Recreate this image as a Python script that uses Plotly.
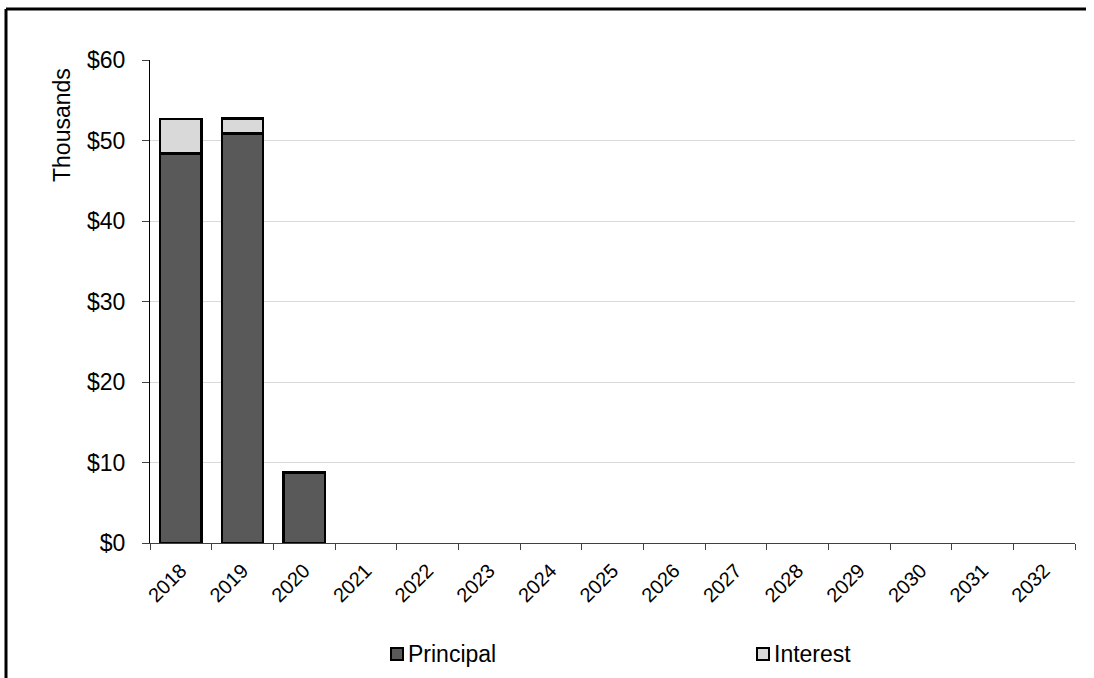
import plotly.graph_objects as go

# Annual loan payments, in thousands of dollars
years = [str(y) for y in range(2018, 2033)]
principal = [48.4, 50.9, 8.7, 0, 0, 0, 0, 0, 0, 0, 0, 0, 0, 0, 0]
interest = [4.3, 1.85, 0.15, 0, 0, 0, 0, 0, 0, 0, 0, 0, 0, 0, 0]
y_ticks = [0, 10, 20, 30, 40, 50, 60]

W, H = 1094, 678
L, R, T, B = 150, 19, 60, 135
PW, PH = W - L - R, H - T - B

FONT = "Liberation Sans, Arial, sans-serif"
DARK = "#595959"
LIGHT = "#d9d9d9"


def px_x(x):
    return (x - L) / PW


def px_y(y):
    return 1 - (y - T) / PH


def nonzero(values):
    # empty years get no bar (and no outline on the baseline)
    return [v if v else None for v in values]


fig = go.Figure()
fig.add_trace(go.Bar(x=years, y=nonzero(principal), name="Principal",
                     marker=dict(color=DARK, line=dict(color="black", width=2.5)),
                     showlegend=False))
fig.add_trace(go.Bar(x=years, y=nonzero(interest), name="Interest",
                     marker=dict(color=LIGHT, line=dict(color="black", width=2.5)),
                     showlegend=False))

shapes = [
    # outer chart frame: left and top edges
    dict(type="line", xref="paper", yref="paper",
         x0=px_x(6), x1=px_x(6), y0=px_y(H), y1=px_y(9),
         line=dict(color="black", width=3)),
    dict(type="line", xref="paper", yref="paper",
         x0=px_x(6), x1=px_x(W - 8), y0=px_y(9), y1=px_y(9),
         line=dict(color="black", width=3)),
]
annotations = [
    dict(text="Thousands", xref="paper", yref="paper", x=px_x(62), y=px_y(125),
         textangle=-90, showarrow=False, font=dict(family=FONT, size=23, color="black"),
         xanchor="center", yanchor="middle"),
]

# legend entries
for name, color, sx in [("Principal", DARK, 391), ("Interest", LIGHT, 757)]:
    shapes.append(dict(type="rect", xref="paper", yref="paper",
                       x0=px_x(sx), x1=px_x(sx + 12), y0=px_y(660), y1=px_y(648),
                       fillcolor=color, line=dict(color="black", width=2)))
    annotations.append(dict(text=name, xref="paper", yref="paper",
                            x=px_x(sx + 15), y=px_y(654), showarrow=False,
                            xanchor="left", yanchor="middle",
                            font=dict(family=FONT, size=23, color="black")))

fig.update_layout(
    width=W, height=H,
    margin=dict(l=L, r=R, t=T, b=B),
    paper_bgcolor="white", plot_bgcolor="white",
    barmode="stack", bargap=0.33,
    font=dict(family=FONT, size=23, color="black"),
    shapes=shapes, annotations=annotations,
    xaxis=dict(
        type="category", tickangle=-45, tickson="boundaries",
        ticks="outside", ticklen=6, tickcolor="#404040",
        showline=True, linecolor="#404040", linewidth=1,
        showgrid=False, tickfont=dict(family=FONT, size=20),
        ticklabelstandoff=7,
    ),
    yaxis=dict(
        range=[0, 60], tickvals=y_ticks, ticktext=[f"${v}" for v in y_ticks],
        ticks="outside", ticklen=7, tickcolor="#404040",
        showline=True, linecolor="black", linewidth=1,
        showgrid=True, gridcolor=LIGHT, gridwidth=1,
        zeroline=False, tickfont=dict(family=FONT, size=23),
        ticklabelstandoff=12,
    ),
)

fig.write_html("out.html")
